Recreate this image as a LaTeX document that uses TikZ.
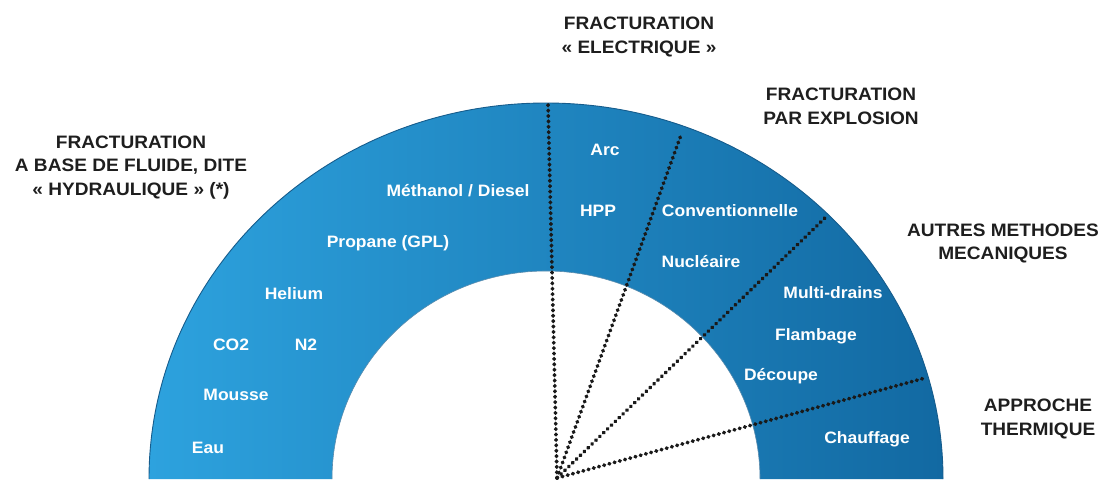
\documentclass[tikz,border=0pt]{standalone}
\usepackage{fontspec}
\setmainfont{Liberation Sans}[FakeStretch=1.06]
\definecolor{bleft}{RGB}{45,162,222}
\definecolor{bright}{RGB}{18,105,162}
\definecolor{bedge}{RGB}{22,92,140}
\definecolor{headc}{RGB}{30,30,30}
\tikzset{
  heading/.style={font=\fontsize{18}{23.5}\selectfont\bfseries, text=headc, align=center, inner sep=0pt},
  lab/.style={font=\fontsize{16.5}{20}\selectfont\bfseries, text=white, inner sep=0pt, text height=1.25ex*1.0+0.25em, text depth=0.2em},
  ray/.style={draw=black!90, line width=3.8pt, line cap=round, dash pattern=on 0.6pt off 4.8pt}
}
\begin{document}
\begin{tikzpicture}[x=1pt,y=1pt]
\useasboundingbox (0,0) rectangle (1107,480);
% half annulus
\shade[left color=bleft, right color=bright]
  (149,1) arc[start angle=180, end angle=0, x radius=397, y radius=376]
  -- (760,1) arc[start angle=0, end angle=180, x radius=214, y radius=208] -- cycle;
\draw[bedge, line width=0.9pt]
  (149,1) arc[start angle=180, end angle=0, x radius=397, y radius=376];
\draw[bedge!70, line width=0.6pt]
  (760,1) arc[start angle=0, end angle=180, x radius=214, y radius=208];
% rays
\coordinate (O) at (557,2);
\coordinate (e1) at (548,377);
\coordinate (e2) at (681,345);
\coordinate (e3) at (828,265);
\coordinate (e4) at (925,102);
\draw[ray] (O) -- (e1);
\draw[ray] (O) -- (e2);
\draw[ray] (O) -- (e3);
\draw[ray] (O) -- (e4);
% headings
\node[heading] (h1) at (131,312.5) {FRACTURATION\\A BASE DE FLUIDE, DITE\\« HYDRAULIQUE » (*)};
\node[heading] (h2) at (639,443) {FRACTURATION\\« ELECTRIQUE »};
\node[heading] (h3) at (841,373.5) {FRACTURATION\\PAR EXPLOSION};
\node[heading] (h4) at (1003,236.5) {AUTRES METHODES\\MECANIQUES};
\node[heading] (h5) at (1038,61) {APPROCHE\\THERMIQUE};
% labels
\node[lab] (l1) at (458,287) {Méthanol / Diesel};
\node[lab] (l2) at (388,236) {Propane (GPL)};
\node[lab] (l3) at (294,184) {Helium};
\node[lab] (l4) at (231,133) {CO2};
\node[lab] (l5) at (306,133) {N2};
\node[lab] (l6) at (236,83) {Mousse};
\node[lab] (l7) at (208,30) {Eau};
\node[lab] (l8) at (605,328) {Arc};
\node[lab] (l9) at (598,267) {HPP};
\node[lab] (l10) at (730,267) {Conventionnelle};
\node[lab] (l11) at (701,216) {Nucléaire};
\node[lab] (l12) at (833,185) {Multi-drains};
\node[lab] (l13) at (816,143) {Flambage};
\node[lab] (l14) at (781,103) {Découpe};
\node[lab] (l15) at (867,40) {Chauffage};
\end{tikzpicture}
\end{document}
